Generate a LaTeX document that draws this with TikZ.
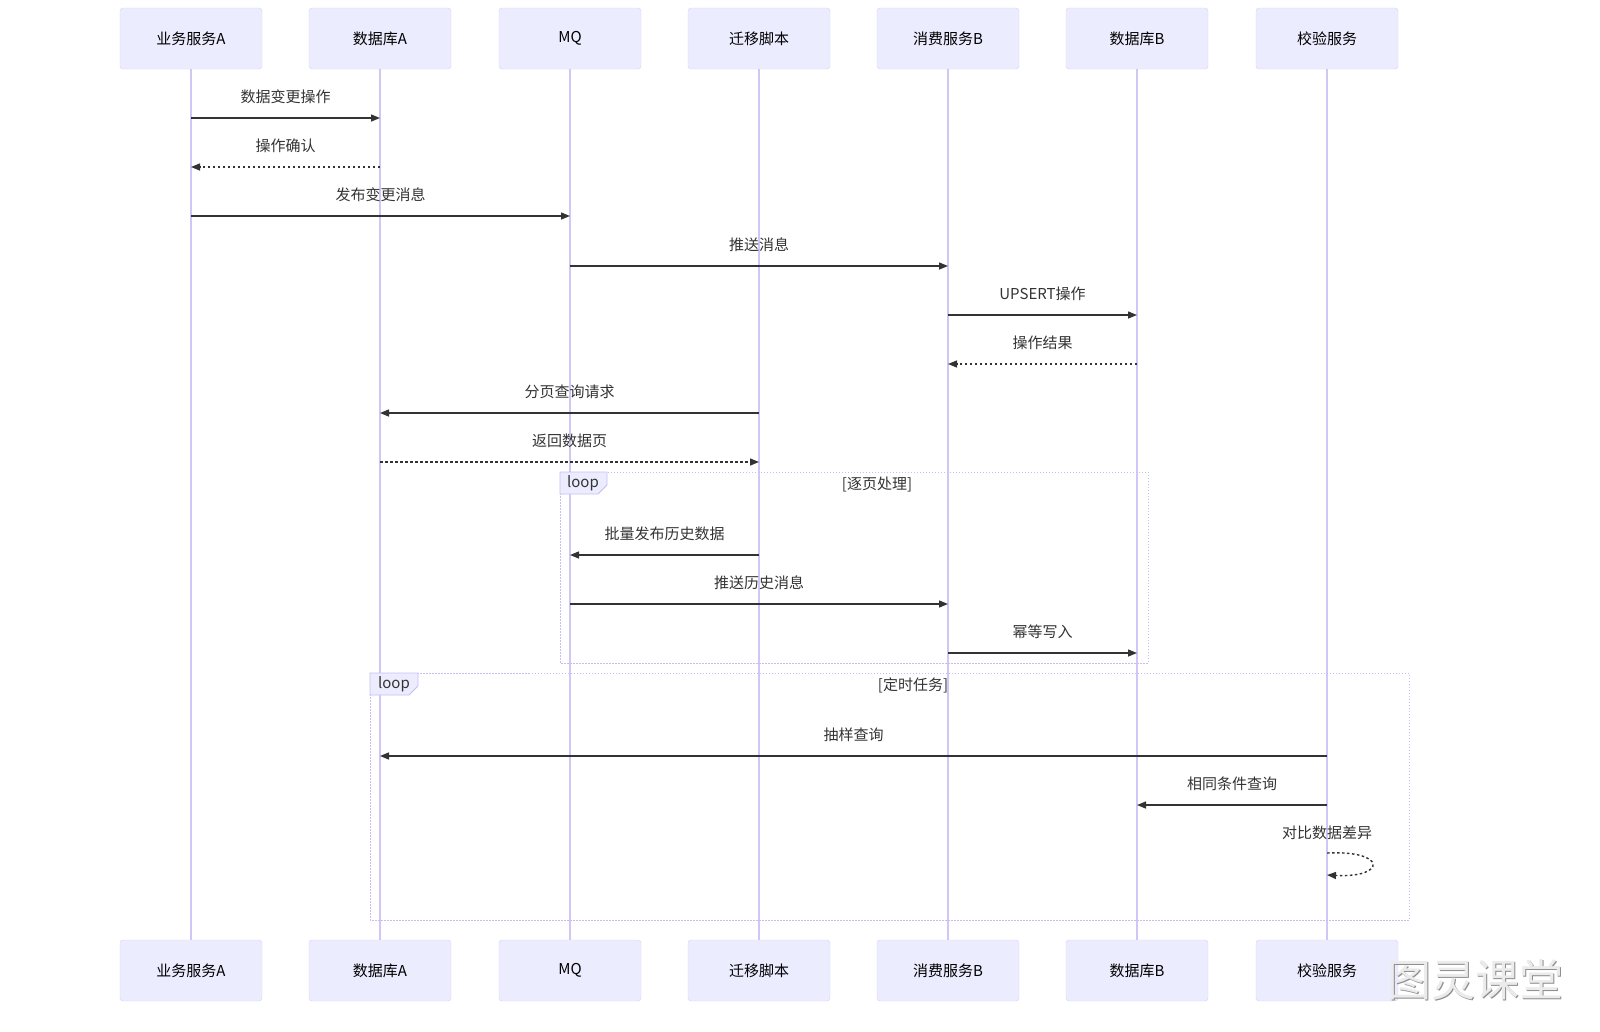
\documentclass[tikz,border=0pt]{standalone}
\usepackage{fontspec}
\setmainfont{Noto Sans CJK SC}
\usetikzlibrary{arrows.meta}
\usetikzlibrary{calc}
\definecolor{actorfill}{RGB}{236,236,255}
\definecolor{actorline}{RGB}{214,208,250}
\definecolor{lifecolor}{RGB}{210,198,246}
\definecolor{loopcolor}{RGB}{200,188,242}
\definecolor{msgcolor}{RGB}{51,51,51}
\tikzstyle{actor}=[draw=actorline,fill=actorfill,rounded corners=3pt,minimum width=142pt,minimum height=61pt,inner sep=0pt,font=\fontsize{15}{17}\selectfont,text=black]
\tikzstyle{lifeline}=[draw=lifecolor,line width=1.4pt]
\tikzstyle{msg}=[draw=msgcolor,line width=1.4pt,-{Triangle[length=9pt,width=7pt]}]
\tikzstyle{reply}=[msg,dash pattern=on 2.5pt off 2.5pt]
\tikzstyle{msglabel}=[font=\fontsize{15}{17}\selectfont,text=msgcolor,inner sep=0pt]
\tikzstyle{loopbox}=[draw=loopcolor,line width=0.9pt,dash pattern=on 1.5pt off 1.5pt]
\tikzstyle{looptab}=[draw=loopcolor,fill=actorfill,line width=0.9pt]

\begin{document}
\begin{tikzpicture}[x=1pt,y=-1pt]
  \useasboundingbox (0,0) rectangle (1600,1031);

  % participants, top and bottom
  \foreach \name/\txt/\x in {svcA/业务服务A/191, dbA/数据库A/380, mq/MQ/570, script/迁移脚本/759,
                             svcB/消费服务B/948, dbB/数据库B/1137, check/校验服务/1327} {
    \node[actor] (\name) at (\x,38.5) {\txt};
    \node[actor] (\name-b) at (\x,970.5) {\txt};
    \draw[lifeline] (\name.south) -- (\name-b.north);
  }

  % message rows
  \foreach \n/\y in {1/118, 2/167, 3/216, 4/266, 5/315, 6/364, 7/413, 8/462,
                     9/555, 10/604, 11/653, 12/756, 13/805, 14/853, 15/875} {
    \coordinate (r\n) at (0,\y);
  }

  % loops
  \draw[loopbox] (560,472) rectangle (1148,663);
  \draw[looptab] (560,472) -- (607,472) -- (607,485) -- (598,494) -- (560,494) -- cycle;
  \node[msglabel] (loop1) at (583,483) {loop};
  \node[msglabel] (loop1txt) at (877,484) {[逐页处理]};

  \draw[loopbox] (370,673) rectangle (1409,920);
  \draw[looptab] (370,673) -- (418,673) -- (418,686) -- (409,695) -- (370,695) -- cycle;
  \node[msglabel] (loop2) at (394,684) {loop};
  \node[msglabel] (loop2txt) at (913,685) {[定时任务]};

  % messages
  \draw[msg] (svcA |- r1) -- (dbA |- r1) node[msglabel,midway,yshift=21pt] {数据变更操作};
  \draw[reply] (dbA |- r2) -- (svcA |- r2) node[msglabel,midway,yshift=21pt] {操作确认};
  \draw[msg] (svcA |- r3) -- (mq |- r3) node[msglabel,midway,yshift=21pt] {发布变更消息};
  \draw[msg] (mq |- r4) -- (svcB |- r4) node[msglabel,midway,yshift=21pt] {推送消息};
  \draw[msg] (svcB |- r5) -- (dbB |- r5) node[msglabel,midway,yshift=21pt] {UPSERT操作};
  \draw[reply] (dbB |- r6) -- (svcB |- r6) node[msglabel,midway,yshift=21pt] {操作结果};
  \draw[msg] (script |- r7) -- (dbA |- r7) node[msglabel,midway,yshift=21pt] {分页查询请求};
  \draw[reply] (dbA |- r8) -- (script |- r8) node[msglabel,midway,yshift=21pt] {返回数据页};

  \draw[msg] (script |- r9) -- (mq |- r9) node[msglabel,midway,yshift=21pt] {批量发布历史数据};
  \draw[msg] (mq |- r10) -- (svcB |- r10) node[msglabel,midway,yshift=21pt] {推送历史消息};
  \draw[msg] (svcB |- r11) -- (dbB |- r11) node[msglabel,midway,yshift=21pt] {幂等写入};

  \draw[msg] (check |- r12) -- (dbA |- r12) node[msglabel,midway,yshift=21pt] {抽样查询};
  \draw[msg] (check |- r13) -- (dbB |- r13) node[msglabel,midway,yshift=21pt] {相同条件查询};
  \node[msglabel] (selfmsg) at (1327,833) {对比数据差异};
  \draw[reply] (check |- r14) .. controls ($(check |- r14)+(60,-3)$) and ($(check |- r15)+(60,3)$) .. (check |- r15);

  % watermark
  \node[font=\fontsize{44}{46}\selectfont,text=black!45] (mark) at (1476,981) {图灵课堂};
  \node[font=\fontsize{44}{46}\selectfont,text=black!8] (mark2) at (1475,980) {图灵课堂};
\end{tikzpicture}
\end{document}
